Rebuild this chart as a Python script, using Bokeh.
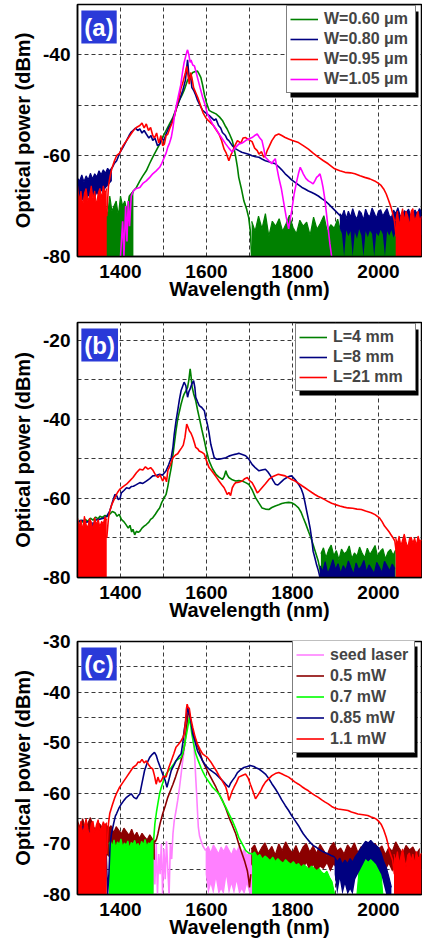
from bokeh.plotting import figure
from bokeh.models import (FixedTicker, Legend, LegendItem, Label, Range1d, BoxAnnotation)
from bokeh.layouts import column
from bokeh.embed import file_html
from bokeh.resources import INLINE

# ---------------- common ----------------
X_START, X_END = 1300, 2100
X_TICKS = [1400, 1600, 1800, 2000]
X_GRID = [1400, 1500, 1600, 1700, 1800, 1900, 2000]

# ---------------- panel (a) ----------------
A_Y = (-80, -30)
A_Y_TICKS = [-80, -60, -40]
A_Y_GRID = [-70, -60, -50, -40]
A_LABELS = ["W=0.60 \u03bcm", "W=0.80 \u03bcm", "W=0.95 \u03bcm", "W=1.05 \u03bcm"]

# W=0.60 um (green)
a060_nl_wl = [1300, 1305, 1310, 1315, 1320, 1325, 1330, 1335, 1340, 1345, 1350, 1355, 1360, 1365,
              1370, 1375, 1380, 1385, 1390, 1395, 1400, 1405, 1410, 1415, 1420, 1425, 1430]
a060_nl_hi = [-70, -72, -69, -71, -73, -70, -71, -69, -72, -70, -71, -73, -69, -70,
              -72, -68, -71, -70, -69, -72, -68, -70, -69, -71, -68, -67.5, -67]
a060_wl = [1425, 1430, 1437, 1445, 1452, 1460, 1468, 1475, 1483, 1491, 1498, 1506, 1514, 1522, 1530,
           1537, 1543, 1548, 1552, 1556, 1562, 1568, 1574, 1579, 1583, 1587, 1591, 1595, 1600, 1606,
           1614, 1622, 1630, 1637, 1643, 1648, 1654, 1660, 1664, 1668, 1672, 1675, 1681, 1687, 1693,
           1698, 1702, 1705]
a060_db = [-68, -67, -66.3, -65, -64, -63, -61.5, -60.3, -59, -57.7, -56.3, -55, -53.7, -52.4, -50.6,
           -49, -48, -47, -46, -45, -44.2, -43.5, -43.3, -43.2, -43.8, -44.5, -46, -47.8, -49.5, -51,
           -51.4, -51.7, -52.3, -53, -54, -54.7, -55.8, -57, -58.5, -60.3, -62.3, -64.3, -66.5, -69, -70.5,
           -72.2, -75, -80]
a060_nr_wl = [1705, 1713, 1721, 1729, 1737, 1745, 1753, 1761, 1769, 1777, 1785, 1793, 1801, 1809, 1817,
              1825, 1833, 1841, 1849, 1857, 1865, 1873, 1881, 1889, 1897, 1905, 1913, 1921, 1929, 1937,
              1945, 1953, 1961, 1969, 1977, 1985, 1993, 2001, 2009, 2017, 2025, 2033, 2041]
a060_nr_hi = [-73, -75, -72, -74.5, -71.5, -76, -73, -74, -72.5, -75, -73.5, -71.8, -74.2, -75.5, -72.8,
              -74, -73.2, -75.8, -72.2, -74.6, -73.4, -71.9, -75.1, -73.7, -74.4, -72.6, -75.4, -73.1, -74.8, -72.4,
              -73.9, -75.2, -72.9, -74.1, -73.6, -71.7, -74.7, -73.3, -75, -72.7, -74.3, -73.8, -75.6]

# W=0.80 um (navy)
a080_nl_wl = [1300, 1305, 1310, 1315, 1320, 1325, 1330, 1335, 1340, 1345, 1350, 1355, 1360, 1365, 1370, 1375, 1380]
a080_nl_hi = [-64.5, -65, -63.8, -65.2, -64, -64.8, -63.5, -64.6, -63.6, -64.2, -63, -63.8, -62.8, -63.5, -62.5, -63, -62.3]
a080_nl_lo = [-69, -68.5, -69, -68.5, -69, -68, -68.5, -68, -68.5, -67.5, -68, -67, -67.5, -66.5, -66, -65.5, -65]
a080_wl = [1380, 1386, 1391, 1398, 1406, 1414, 1420, 1425, 1429, 1435, 1440, 1445, 1450, 1455, 1460, 1466,
           1471, 1475, 1480, 1486, 1491, 1496, 1501, 1506, 1512, 1517, 1522, 1527, 1532, 1537, 1541, 1545,
           1548, 1551, 1554, 1556, 1558, 1560, 1563, 1566, 1570, 1575, 1579, 1585, 1591, 1598, 1606, 1612,
           1618, 1622, 1628, 1633, 1637, 1644, 1648, 1652, 1660, 1667, 1675, 1682, 1690, 1698, 1706, 1714,
           1722, 1730, 1737, 1745, 1752, 1760, 1768, 1775, 1783, 1791, 1798, 1806, 1814, 1822, 1829, 1837,
           1845, 1852, 1860, 1868, 1875, 1883, 1891, 1898, 1906, 1912]
a080_db = [-62.5, -61.5, -61, -59.5, -58.3, -57, -56, -55.3, -55, -54.5, -55, -54.7, -55.5, -55, -55.7, -56.5,
           -56, -57, -56.5, -58, -57.7, -56.5, -57, -55.7, -54.5, -53.8, -52.7, -51.5, -50, -49, -48, -47,
           -46, -45, -42.5, -41, -43, -45, -44, -46.5, -47, -48, -49, -50, -51, -51.5, -52, -52.5,
           -53, -52.7, -54, -54.5, -55.4, -56, -56.7, -57, -58, -58.6, -59, -59.3, -59.5, -59.7, -60, -60.2,
           -60.3, -60.7, -61, -61.2, -61.4, -61.6, -62.2, -62.8, -63.6, -64.2, -64.8, -65.3, -65.8, -66.3, -66.6, -67,
           -67.3, -67.6, -68, -68.5, -68.9, -69.5, -70.2, -70.8, -71.5, -72]
a080_nr_wl = [1910, 1915, 1920, 1925, 1930, 1935, 1940, 1945, 1950, 1955, 1960, 1965, 1970, 1975, 1980,
              1985, 1990, 1995, 2000, 2005, 2010, 2015, 2020, 2025, 2030, 2035, 2040, 2045, 2050, 2055,
              2060, 2065, 2070, 2075, 2080, 2085, 2090, 2095, 2100]
a080_nr_hi = [-71.5, -72, -70.8, -72.5, -71, -72.2, -70.5, -71.8, -72.6, -70.9, -71.4, -72.8, -70.6, -71.7, -72.1,
              -70.4, -71.3, -72.4, -71, -70.7, -72, -71.2, -70.5, -71.9, -72.3, -70.8, -71.5, -70.3, -71.8, -72.1,
              -70.9, -71.2, -70.6, -72, -71.4, -70.8, -71.6, -70.5, -71.1]
a080_nr_lo = [-74.5, -75.5, -80, -74.8, -76, -75, -80, -75.2, -76.5, -74.6, -75.8, -80, -75, -76.2, -74.9,
              -75.5, -80, -75.3, -76, -74.7, -75.6, -80, -75, -75.9, -74.8, -76.3, -75.1, -80, -75.4, -74.9,
              -75.7, -75.2, -80, -74.8, -75.5, -76, -74.9, -75.3, -75.8]

# W=0.95 um (red)
a095_nl_wl = [1300, 1304, 1308, 1312, 1316, 1320, 1324, 1328, 1332, 1336, 1340, 1344, 1348, 1352, 1356, 1360, 1364, 1368]
a095_nl_hi = [-66, -69, -67, -70, -67.5, -66.5, -69, -68, -66, -68.5, -67, -70, -67.5, -66.5, -68.5, -66, -67.5, -66.5]
a095_wl = [1368, 1372, 1376, 1380, 1386, 1391, 1398, 1406, 1414, 1422, 1430, 1437, 1445, 1450, 1455, 1460,
           1465, 1470, 1475, 1479, 1484, 1489, 1494, 1498, 1502, 1506, 1510, 1515, 1520, 1526, 1531, 1536,
           1541, 1545, 1548, 1551, 1554, 1557, 1560, 1563, 1566, 1570, 1575, 1580, 1586, 1592, 1598, 1604,
           1610, 1616, 1622, 1629, 1635, 1641, 1646, 1652, 1656, 1660, 1666, 1672, 1680, 1685, 1691, 1698,
           1706, 1712, 1718, 1722, 1728, 1733, 1737, 1741, 1745, 1752, 1760, 1768, 1775, 1783, 1791, 1800,
           1814, 1825, 1837, 1848, 1860, 1872, 1883, 1892, 1898, 1910, 1922, 1935, 1945, 1957, 1968, 1980,
           1991, 2000, 2006, 2012, 2018, 2024, 2029, 2033, 2037, 2041]
a095_db = [-72, -66, -64, -62.5, -61, -60, -59.5, -58, -57, -56, -55, -54.4, -54, -53.5, -54.5, -53.7,
           -55, -54.4, -56, -56.5, -55.5, -57.5, -56, -58, -57.7, -56, -55.7, -54.5, -53.5, -52, -50, -48.5,
           -46.5, -45.5, -44.5, -43.5, -42.3, -44, -45.8, -43.5, -44.5, -46.5, -47.5, -48.5, -50, -51.5, -52.4, -53,
           -53.5, -54, -54.8, -55.7, -57, -58.7, -59.5, -61, -60, -59.3, -58, -57, -57.5, -56.5, -56.4, -56.8,
           -57.2, -58.5, -59, -59.7, -59.2, -60.3, -60, -59, -58.3, -57, -56, -55.7, -56, -56.4, -56.7, -57,
           -57.4, -58, -58.7, -59.5, -60.3, -61, -61.6, -62.2, -62.6, -63, -63.3, -63.4, -63.6, -64, -64.3, -64.6,
           -65, -65.5, -65.9, -66.6, -67.6, -69, -70.2, -71.5, -72.9, -76]
a095_nr_wl = [2040, 2044, 2048, 2052, 2056, 2060, 2064, 2068, 2072, 2076, 2080, 2084, 2088, 2092, 2096, 2100]
a095_nr_hi = [-73, -71, -74, -72, -70.5, -73, -71, -72, -74, -71, -70.5, -73, -72, -71, -73, -72]

# W=1.05 um (magenta)
a105_wl = [1400, 1405, 1408, 1412, 1415, 1418, 1421, 1425, 1430, 1437, 1445, 1452, 1460, 1468, 1475, 1483,
           1491, 1496, 1502, 1506, 1510, 1514, 1518, 1522, 1525, 1530, 1535, 1540, 1545, 1548, 1551, 1554,
           1556, 1559, 1562, 1564, 1568, 1572, 1576, 1579, 1585, 1591, 1597, 1602, 1608, 1614, 1622, 1629,
           1637, 1645, 1652, 1660, 1666, 1675, 1683, 1691, 1698, 1706, 1712, 1718, 1724, 1729, 1733, 1737,
           1745, 1752, 1756, 1760, 1764, 1768, 1774, 1779, 1785, 1791, 1795, 1798, 1804, 1810, 1814, 1818,
           1822, 1825, 1831, 1837, 1843, 1848, 1852, 1856, 1860, 1864, 1868, 1871, 1875, 1879, 1883, 1887, 1891]
a105_db = [-80, -73, -80, -70, -77, -69, -74, -68, -67, -66.5, -66.3, -65.5, -65, -64.3, -63.6, -63,
           -62.3, -61.5, -60.3, -59.5, -58.3, -57.5, -56.4, -54.5, -52.4, -50, -48, -46, -43, -41.5, -40.5, -39.5,
           -39, -40, -41.5, -41, -42, -42.2, -43.5, -44.5, -46.5, -48.4, -50, -51.7, -52.7, -53.7, -54.7, -55.7,
           -56.7, -57.7, -58.5, -59.3, -58.5, -57.7, -57.5, -57, -56.7, -56.4, -56, -55.7, -56.5, -57, -58.5, -60.3,
           -61, -61.6, -61, -60.6, -62.5, -64.3, -66.5, -69, -72, -74.5, -72.5, -71, -67.5, -65, -63.5, -62.3,
           -63, -63.6, -64.5, -65, -65.3, -65.6, -65, -64.3, -64, -63.6, -65, -66.3, -68.5, -71.5, -74.5, -77.5, -80]

# ---------------- panel (b) ----------------
B_Y = (-80, -15.5)
B_Y_TICKS = [-80, -60, -40, -20]
B_Y_GRID = [-70, -60, -50, -40, -30, -20]
B_LABELS = ["L=4 mm", "L=8 mm", "L=21 mm"]

# L=4 mm (green)
b4_wl = [1300, 1306, 1312, 1318, 1324, 1330, 1336, 1342, 1348, 1352, 1358, 1364, 1368, 1375, 1381, 1387,
         1392, 1397, 1402, 1407, 1412, 1418, 1422, 1426, 1429, 1433, 1437, 1441, 1445, 1450, 1455, 1460,
         1466, 1470, 1475, 1481, 1487, 1491, 1496, 1501, 1506, 1510, 1514, 1518, 1522, 1526, 1529, 1533,
         1537, 1541, 1545, 1548, 1552, 1556, 1559, 1562, 1564, 1566, 1570, 1575, 1579, 1583, 1589, 1595,
         1600, 1606, 1614, 1622, 1629, 1637, 1641, 1645, 1648, 1652, 1660, 1668, 1675, 1683, 1691, 1698,
         1706, 1714, 1722, 1729, 1737, 1745, 1752, 1760, 1768, 1775, 1783, 1791, 1798, 1806, 1814, 1820,
         1825, 1831, 1837, 1843, 1848, 1854, 1860, 1864, 1866]
b4_db = [-66.6, -65.5, -66, -65.3, -65.8, -65, -65.5, -64.7, -65.2, -64.5, -64.8, -64.3, -64.6, -64, -63.3, -63.6,
         -64.5, -64, -65.3, -65.8, -66.5, -67.5, -66.8, -68.5, -67.8, -69.2, -68.3, -68.6, -68.3, -67.5, -67, -66.6,
         -66, -65.3, -64.9, -64, -63, -62.4, -61, -60, -59, -57, -54.5, -52.2, -49, -45.5, -42.9, -40,
         -38, -36.1, -34.5, -33.6, -32.8, -31.9, -30, -27.2, -29, -31.5, -33.5, -35.3, -37.5, -39.5, -42.5, -45.4,
         -48, -50.5, -52.5, -53.9, -54.6, -55.2, -54.5, -53, -54, -54.7, -55.3, -55.6, -55.5, -55.6, -56, -56.4,
         -57.8, -59.8, -61.2, -62.4, -62.7, -62.8, -62.3, -61.9, -61.6, -61.3, -61.1, -61, -61.1, -61.6, -62.4, -63.5,
         -64.9, -66.5, -68.3, -70, -71.7, -73.8, -75.9, -78, -80]
b4_nr_wl = [1866, 1872, 1878, 1884, 1890, 1896, 1902, 1908, 1914, 1920, 1926, 1932, 1938, 1944, 1950,
            1956, 1962, 1968, 1974, 1980, 1986, 1992, 1998, 2004, 2010, 2016, 2022, 2028, 2034, 2040]
b4_nr_hi = [-74, -72.5, -75, -73, -71.8, -74.5, -73.2, -75.5, -72.8, -74, -73.5, -72, -75.2, -73.8, -74.6,
            -72.3, -73.9, -75, -72.6, -74.2, -73.1, -71.9, -74.8, -73.4, -72.7, -75.3, -73.6, -72.9, -74.4, -73]

# L=8 mm (navy)
b8_wl = [1300, 1310, 1320, 1330, 1333, 1336, 1337, 1340, 1350, 1360, 1368, 1375, 1381, 1387, 1391, 1395,
         1399, 1402, 1408, 1414, 1420, 1425, 1430, 1437, 1445, 1452, 1460, 1468, 1475, 1483, 1491, 1498,
         1506, 1512, 1518, 1522, 1525, 1529, 1533, 1537, 1541, 1545, 1548, 1552, 1556, 1559, 1562, 1566,
         1570, 1573, 1575, 1579, 1583, 1589, 1595, 1598, 1602, 1606, 1610, 1614, 1618, 1624, 1629, 1637,
         1645, 1652, 1660, 1668, 1675, 1683, 1691, 1698, 1706, 1714, 1722, 1729, 1737, 1743, 1749, 1755,
         1760, 1766, 1772, 1780, 1787, 1793, 1798, 1806, 1814, 1820, 1825, 1829, 1833, 1837, 1841, 1845,
         1848, 1852, 1856, 1860, 1864]
b8_db = [-66, -65.5, -66, -65.8, -80, -66, -80, -65.5, -65.3, -65, -64.5, -63.2, -61, -59, -59.3, -60.3,
         -60, -58.6, -58, -57.3, -57.5, -57, -56.9, -56.5, -56, -56.2, -55.6, -55, -54.3, -54.2, -53.9, -54.1,
         -53, -51.5, -49.7, -47, -43.7, -40.5, -37.8, -35, -32.7, -31.5, -30.6, -31.5, -34.4, -33, -32.3, -31,
         -30.2, -32, -34.4, -35.5, -36.5, -37, -37.8, -39.5, -41.2, -43.5, -46.3, -48, -49.7, -50.1, -50.1, -49.9,
         -49.7, -49.3, -49, -48.8, -48.6, -48.9, -49.2, -50, -51.4, -52.3, -53, -52.8, -52.6, -53.3, -54.3, -55.5,
         -56.4, -56.6, -56, -55.2, -54.7, -54.4, -54.3, -55.2, -56.4, -57.5, -59, -61, -63.2, -65.3, -67.5, -70.5,
         -73.4, -75, -76.8, -78.2, -80]
b8_nr_wl = [1864, 1870, 1876, 1882, 1888, 1894, 1900, 1906, 1912, 1918, 1924, 1930, 1936, 1942, 1948,
            1954, 1960, 1966, 1972, 1978, 1984, 1990, 1996, 2002, 2008, 2014, 2020, 2026, 2032, 2038]
b8_nr_hi = [-77, -78.5, -76, -79, -77.5, -75.5, -78, -76.5, -79, -77, -78.2, -75.8, -77.6, -79.2, -76.3,
            -78, -77.2, -75.7, -78.6, -76.8, -77.9, -79, -76.2, -77.4, -78.8, -75.9, -77.1, -78.3, -76.6, -77.8]

# L=21 mm (red)
b21_nl_wl = [1300, 1304, 1308, 1312, 1316, 1320, 1324, 1328, 1332, 1336, 1340, 1344, 1348, 1352, 1356, 1360, 1364, 1368]
b21_nl_hi = [-65, -67, -65.5, -68, -64.5, -66.5, -67.5, -65, -66, -68, -64.8, -66.7, -65.3, -67.2, -65.8, -66.4, -64.6, -65.5]
b21_wl = [1368, 1372, 1375, 1380, 1387, 1393, 1398, 1406, 1414, 1422, 1429, 1437, 1445, 1452, 1458, 1464,
          1470, 1475, 1481, 1487, 1492, 1498, 1503, 1507, 1510, 1516, 1522, 1528, 1533, 1537, 1542, 1546,
          1550, 1554, 1557, 1560, 1564, 1568, 1572, 1575, 1580, 1583, 1589, 1595, 1600, 1606, 1612, 1618,
          1624, 1629, 1635, 1641, 1645, 1648, 1652, 1656, 1660, 1664, 1668, 1675, 1683, 1689, 1695, 1700,
          1706, 1712, 1718, 1722, 1729, 1737, 1745, 1752, 1760, 1767, 1775, 1783, 1791, 1798, 1806, 1814,
          1822, 1829, 1837, 1845, 1852, 1860, 1868, 1875, 1883, 1891, 1898, 1910, 1920, 1929, 1940, 1950,
          1960, 1970, 1983, 1992, 2002, 2008, 2014, 2020, 2025, 2029, 2034, 2038, 2042]
b21_db = [-70, -65, -63.2, -61.5, -59.8, -58.5, -57.7, -57, -56.4, -55.5, -54.7, -53.5, -52.6, -52.8, -52, -52.6,
          -52.2, -52.8, -54, -54.7, -54, -55.6, -54.5, -55.8, -53, -51.5, -49.7, -49, -48.7, -48, -47.2, -46.5,
          -44.5, -41.2, -42, -42.9, -43.5, -44.6, -46, -47.1, -47.5, -48, -48.3, -48.8, -50.5, -52.2, -53, -53.9,
          -54.8, -55.6, -56.5, -57.3, -58.2, -59, -58.5, -59.3, -57.3, -56.5, -56, -55.9, -55.6, -55, -54.7, -55.5,
          -56, -57.2, -58.6, -58.2, -57.3, -56.3, -55.2, -54.6, -54.2, -53.9, -54.1, -54.3, -54.8, -55.2, -55.6, -56.2,
          -56.8, -57.3, -57.9, -58.5, -59, -59.5, -59.9, -60.3, -60.8, -61.2, -61.5, -61.9, -62.2, -62.4, -62.5, -62.7,
          -62.8, -63.2, -63.6, -64.1, -64.9, -65.8, -67, -67.8, -68.5, -69.2, -70, -70.8, -74]
b21_nr_wl = [2040, 2044, 2048, 2052, 2056, 2060, 2064, 2068, 2072, 2076, 2080, 2084, 2088, 2092, 2096, 2100]
b21_nr_hi = [-70, -71.5, -69.5, -72, -70.5, -69, -71, -72.5, -70.2, -69.8, -71.3, -70, -72, -69.5, -71, -70.4]

# ---------------- panel (c) ----------------
C_Y = (-80, -30)
C_Y_TICKS = [-80, -70, -60, -50, -40, -30]
C_Y_GRID = [-75, -70, -65, -60, -55, -50, -45, -40, -35]
C_LABELS = ["seed laser", "0.5 mW", "0.7 mW", "0.85 mW", "1.1 mW"]

# seed laser (pink)
cs_wl = [1475, 1478, 1480, 1483, 1486, 1489, 1492, 1495, 1498, 1501, 1504, 1507, 1510, 1513, 1516, 1519,
         1522, 1525, 1529, 1533, 1537, 1541, 1544, 1547, 1550, 1552, 1555, 1558, 1560, 1562, 1565, 1568,
         1571, 1573, 1575, 1577, 1579, 1581, 1584, 1587, 1592, 1598]
cs_db = [-80, -71, -78, -70, -80, -72, -76, -70, -80, -71, -77, -69.5, -75, -80, -70, -73,
         -68, -65.4, -63.5, -61.4, -59, -56.2, -54, -52.2, -49.5, -47.6, -45.3, -43, -43.8, -45, -46.5, -48.3,
         -51, -53.6, -57, -60.1, -63.5, -66.7, -68.5, -69.3, -70.5, -71.3]
cs_n_wl = [1598, 1604, 1610, 1616, 1622, 1628, 1634, 1640, 1646, 1652, 1658, 1664, 1670, 1676, 1682,
           1688, 1694, 1700, 1706, 1712]
cs_n_hi = [-71.3, -70.5, -71.8, -70.2, -71, -72, -70.6, -71.5, -70.3, -71.2, -72.2, -70.8, -71.6, -70.4, -71.9,
           -71, -72.4, -71.5, -73, -78]
cs_n_lo = [-76, -80, -78, -80, -77, -80, -79, -80, -76.5, -80, -78, -80, -77.5, -80, -79,
           -80, -78, -80, -80, -80]

# 0.5 mW (dark red)
c05_nl_wl = [1300, 1306, 1312, 1318, 1324, 1330, 1336, 1342, 1348, 1354, 1360, 1366, 1372, 1378, 1384, 1390,
             1396, 1402, 1408, 1414, 1420, 1426, 1432, 1438, 1444, 1450, 1456, 1462, 1468, 1474, 1480]
c05_nl_hi = [-65.5, -66.8, -65, -67, -66, -64.8, -66.5, -67.2, -65.8, -66.3, -67.5, -66, -67, -66.4, -67.8, -66.6,
             -67.3, -68, -66.9, -67.6, -68.3, -67.1, -68.5, -67.7, -68.9, -67.9, -68.6, -69.2, -68.2, -69, -69.5]
c05_nl_lo = [-72, -71.5, -73, -72, -71.8, -72.5, -71.6, -72.2, -73, -71.7, -72.4, -71.9, -72.6, -71.5, -72.8, -72,
             -71.7, -72.9, -72.2, -71.8, -72.7, -72.1, -72.9, -72.3, -73, -72.5, -72.8, -73.2, -72.6, -73, -73.2]
c05_wl = [1480, 1484, 1487, 1492, 1498, 1504, 1510, 1516, 1522, 1528, 1533, 1539, 1545, 1549, 1552, 1555,
          1558, 1561, 1564, 1569, 1575, 1583, 1591, 1598, 1606, 1614, 1622, 1629, 1637, 1645, 1652, 1660,
          1668, 1675, 1683, 1689, 1695, 1698, 1700, 1703]
c05_db = [-69.7, -69, -68, -66, -64.1, -62.5, -60.8, -59.5, -58.2, -56.8, -55.5, -54, -52.2, -50.5, -48.3, -46,
          -43.7, -44.5, -46.3, -48, -49.6, -51.5, -53.6, -54.9, -56.2, -57.5, -58.8, -60.1, -61.4, -63, -64.7, -66.3,
          -68, -70, -72, -73.5, -75.3, -77, -78.6, -76]
c05_nr_wl = [1704, 1712, 1720, 1728, 1736, 1744, 1752, 1760, 1768, 1776, 1784, 1792, 1800, 1808, 1816, 1824,
             1832, 1840, 1848, 1856, 1864, 1872, 1880, 1888, 1896, 1904, 1912, 1920, 1928, 1936, 1944, 1952,
             1960, 1968, 1976, 1984, 1992, 2000, 2008, 2016, 2024, 2032, 2040, 2048, 2056, 2064, 2072, 2080,
             2088, 2096]
c05_nr_hi = [-71, -70.2, -72, -70.8, -69.8, -71.5, -70.5, -72.2, -70, -71.3, -69.6, -70.9, -71.8, -70.3, -72.1, -70.7,
             -69.9, -71.6, -70.4, -71.9, -70.1, -71.2, -72.3, -70.6, -69.7, -71.4, -70.8, -72, -70.2, -71.1, -69.8, -71.7,
             -70.5, -72.2, -70.9, -71.3, -69.9, -71, -70.4, -72.1, -70.7, -71.5, -69.6, -70.8, -71.9, -70.3, -71.2, -70.6,
             -72, -70.9]
c05_nr_lo = [-74, -75.5, -73.8, -75, -74.4, -75.8, -74.1, -75.2, -73.9, -75.6, -74.3, -75.1, -74, -75.7, -74.6, -75.3,
             -73.8, -75.4, -74.2, -75.9, -74.5, -75, -73.9, -75.5, -74.1, -75.2, -74.7, -75.8, -74, -75.4, -74.3, -75.1,
             -73.9, -75.6, -74.4, -75, -74.2, -75.7, -74.6, -75.3, -74, -75.5, -74.1, -75.2, -73.8, -75.4, -74.5, -75,
             -74.2, -75.6]

# 0.7 mW (bright green)
c07_nl_wl = [1373, 1377, 1381, 1385, 1389, 1393, 1397, 1401, 1405, 1409, 1413, 1417, 1421, 1425, 1429, 1433,
             1437, 1441, 1445, 1449, 1453, 1457, 1461, 1465, 1469, 1473, 1477]
c07_nl_hi = [-70, -69.5, -70.5, -69.2, -70.8, -69.6, -70.2, -69, -70.6, -69.8, -70.3, -69.4, -70.9, -69.7, -70.1, -69.3,
             -70.4, -69.9, -70.7, -69.5, -70.2, -69.1, -70.5, -69.8, -70, -69.4, -69.3]
c07_wl = [1477, 1480, 1484, 1487, 1491, 1495, 1500, 1506, 1512, 1518, 1524, 1529, 1535, 1541, 1545, 1548,
          1552, 1555, 1558, 1560, 1563, 1566, 1570, 1575, 1581, 1587, 1592, 1598, 1606, 1614, 1622, 1629,
          1637, 1645, 1652, 1660, 1668, 1675, 1683, 1691, 1698, 1706]
c07_db = [-69.3, -66, -63.5, -62, -60, -58.8, -57.5, -56.2, -55.5, -54.9, -54.2, -53.6, -53.2, -52.9, -52, -50.9,
          -49, -47.6, -46.2, -45, -46.5, -48.3, -50.2, -52.2, -53.6, -54.9, -55.8, -56.8, -57.8, -58.8, -59.5, -60.1,
          -61.5, -62.8, -64, -65.4, -67, -68.7, -70, -71.3, -71.8, -72]
c07_nr1_wl = [1706, 1712, 1718, 1724, 1730, 1736, 1742, 1748, 1754, 1760, 1766, 1772, 1778, 1784, 1790, 1796,
              1802, 1808, 1814, 1820, 1826, 1832, 1838, 1844, 1850, 1856, 1862, 1868, 1874, 1880, 1886, 1892, 1898]
c07_nr1_hi = [-72, -71.6, -72.5, -72.1, -73, -72.4, -72.8, -73.3, -72.6, -73.5, -72.9, -73.4, -73.8, -73.1, -73.6, -74,
              -73.5, -74.2, -73.9, -74.6, -74.1, -74.5, -75, -74.4, -74.8, -75.3, -74.9, -75.6, -76, -75.4, -76.6, -77.5, -80]
c07_nr2_wl = [1950, 1956, 1962, 1968, 1974, 1980, 1986, 1992, 1998, 2004, 2010]
c07_nr2_hi = [-80, -74, -72.8, -73.5, -72.4, -73, -72.6, -73.2, -72.9, -74, -80]

# 0.85 mW (navy)
c085_wl = [1300, 1306, 1312, 1318, 1324, 1330, 1336, 1342, 1348, 1354, 1360, 1366, 1370, 1373, 1376, 1379,
           1384, 1388, 1391, 1396, 1402, 1408, 1414, 1420, 1425, 1431, 1437, 1441, 1445, 1450, 1456, 1462,
           1468, 1474, 1479, 1483, 1487, 1493, 1498, 1504, 1508, 1512, 1518, 1524, 1529, 1535, 1541, 1545,
           1548, 1552, 1556, 1559, 1562, 1565, 1568, 1574, 1579, 1585, 1591, 1598, 1606, 1614, 1622, 1629,
           1637, 1645, 1652, 1656, 1660, 1666, 1672, 1680, 1687, 1695, 1702, 1710, 1716, 1722, 1730, 1737,
           1745, 1752, 1760, 1768, 1775, 1783, 1791, 1798, 1806, 1814, 1820, 1825, 1833, 1841, 1848, 1854,
           1860, 1868, 1875, 1883, 1890, 1898]
c085_db = [-67, -68, -66.5, -68.2, -67.3, -68, -66.8, -67.9, -67.1, -68.3, -67.5, -70, -80, -76, -70, -68,
           -66, -64.5, -64, -63, -62.1, -61.4, -60.8, -60.4, -60.1, -60.8, -61.1, -60.5, -60.1, -58, -55.5, -54,
           -52.9, -52.3, -51.9, -52.5, -53.6, -55, -56.2, -57.5, -58.8, -57.5, -55.5, -54.5, -53.6, -52.8, -52.2, -50,
           -47.6, -45.5, -43, -44, -45, -46.5, -48.3, -50, -51.6, -52.6, -53.6, -54.5, -55.2, -55.7, -56.2, -56.8,
           -57.5, -58.2, -58.8, -58, -57.5, -56.8, -55.9, -55.3, -54.9, -54.7, -54.5, -54.7, -55, -55.2, -55.7, -56.2,
           -57.1, -58.1, -59.1, -60.2, -61.3, -62.4, -63.4, -64.4, -65.4, -66.4, -67.3, -68, -68.9, -69.7, -70.3, -70.6,
           -71, -71.4, -71.7, -72, -72.3, -72.6]
c085_n_wl = [1898, 1904, 1910, 1916, 1922, 1928, 1934, 1940, 1946, 1952, 1958, 1964, 1970, 1976, 1982, 1988,
             1994, 2000, 2006, 2012, 2018, 2024, 2030]
c085_n_hi = [-72.6, -73.5, -72.8, -74, -73.2, -73.9, -72.9, -73.6, -72.5, -71.8, -71, -70.2, -69.5, -69.8, -69.3, -69.9,
             -70.3, -70.7, -71.8, -73.5, -74.6, -76.5, -78.6]
c085_n_lo = [-76, -80, -77, -80, -78, -80, -79, -80, -77, -76, -75, -74, -73, -73.5, -73, -73.5,
             -74, -75, -76, -78, -80, -80, -80]

# 1.1 mW (red)
c11_nl_wl = [1300, 1304, 1308, 1312, 1316, 1320, 1324, 1328, 1332, 1336, 1340, 1344, 1348, 1352, 1356, 1360, 1364, 1368]
c11_nl_hi = [-66, -67.5, -65.5, -68, -66.5, -65, -67, -68.5, -66, -65.5, -67.8, -66.2, -65.2, -67.3, -66.8, -65.6, -66.4, -65.8]
c11_wl = [1368, 1372, 1375, 1381, 1387, 1392, 1398, 1406, 1414, 1422, 1429, 1437, 1441, 1445, 1450, 1455,
          1460, 1465, 1470, 1475, 1479, 1483, 1487, 1491, 1495, 1500, 1506, 1512, 1518, 1524, 1529, 1535,
          1541, 1545, 1548, 1551, 1553, 1555, 1557, 1560, 1563, 1568, 1573, 1579, 1585, 1591, 1597, 1602,
          1610, 1618, 1624, 1629, 1637, 1645, 1649, 1652, 1656, 1660, 1664, 1670, 1675, 1683, 1691, 1697,
          1702, 1708, 1714, 1720, 1726, 1731, 1737, 1745, 1752, 1760, 1768, 1776, 1783, 1791, 1800, 1806,
          1814, 1822, 1829, 1837, 1845, 1852, 1860, 1868, 1875, 1883, 1891, 1898, 1906, 1914, 1922, 1929,
          1937, 1945, 1952, 1960, 1968, 1975, 1983, 1990, 1995, 2000, 2006, 2012, 2018, 2022, 2025, 2029,
          2033, 2037]
c11_db = [-72, -66, -64, -62.3, -60.8, -59.8, -58.8, -57.8, -56.8, -55.8, -54.9, -54.4, -53.8, -53.9, -53.3, -54,
          -53.6, -54.3, -54.9, -55.2, -56.5, -58.2, -56.8, -57.8, -57.5, -56.6, -56.8, -55, -53.6, -52.2, -50.9, -50.3,
          -49.6, -49, -48.3, -46, -43.5, -42.4, -43, -43.2, -45, -47, -48.7, -50.3, -51.3, -52.2, -52.6, -52.9,
          -53.8, -54.9, -55.7, -56.5, -57.6, -58.8, -60, -61.4, -60.5, -59.5, -58.8, -57.8, -56.8, -56.5, -56.2, -57,
          -58.2, -59.6, -61.1, -60.3, -59.5, -58.6, -57.8, -57.1, -56.5, -56.1, -55.9, -56.2, -56.5, -56.8, -57.4, -57.8,
          -58.2, -58.7, -59.1, -59.5, -60, -60.4, -60.8, -61.3, -61.7, -62.1, -62.6, -62.9, -63.1, -63.2, -63.3, -63.4,
          -63.7, -63.9, -64.1, -64.2, -64.3, -64.4, -64.7, -64.9, -65.1, -65.5, -66.1, -67.2, -68.7, -70, -71.3, -72.3,
          -73.3, -76]
c11_nr_wl = [2036, 2040, 2044, 2048, 2052, 2056, 2060, 2064, 2068, 2072, 2076, 2080, 2084, 2088, 2092, 2096, 2100]
c11_nr_hi = [-72, -73.5, -71.5, -74, -72.5, -71, -73, -74.5, -72.2, -71.8, -73.3, -72, -74, -71.5, -73, -72.4, -71.8]

# ---------------- colours ----------------
GREEN = "#008000"
NAVY = "#000080"
RED = "#ff0000"
MAGENTA = "#ff00ff"
PINK = "#ff80ff"
DARKRED = "#8b0000"
LIME = "#00ff00"
BADGE = "#2a3ad8"
FONT = "Liberation Sans"
FRAME_W = 344


def make_fig(height, top, bottom, frame_h, yr, yticks, ygrid, badge):
    p = figure(width=422, height=height, output_backend="svg", toolbar_location=None,
               x_range=Range1d(X_START, X_END), y_range=Range1d(*yr),
               min_border_left=77, min_border_right=1, min_border_top=top,
               min_border_bottom=bottom)
    p.outline_line_color = "black"
    p.outline_line_width = 1.5
    p.background_fill_color = "white"
    p.border_fill_color = "white"
    for ax in (p.xaxis[0], p.yaxis[0]):
        ax.axis_line_color = "black"
        ax.axis_line_width = 1.5
        ax.major_tick_out = 0
        ax.major_tick_in = 0
        ax.minor_tick_out = 0
        ax.minor_tick_in = 0
        ax.major_label_text_font = FONT
        ax.major_label_text_font_style = "bold"
        ax.major_label_text_font_size = "19px"
        ax.major_label_text_color = "black"
        ax.axis_label_text_font = FONT
        ax.axis_label_text_font_style = "bold"
        ax.axis_label_text_font_size = "20px"
        ax.axis_label_text_color = "black"
    p.xaxis.ticker = FixedTicker(ticks=X_TICKS)
    p.yaxis.ticker = FixedTicker(ticks=yticks)
    p.yaxis.major_label_overrides = {t: str(t) for t in yticks}
    p.xaxis.axis_label = "Wavelength (nm)"
    p.yaxis.axis_label = "Optical power (dBm)"
    p.xaxis.major_label_standoff = 8
    p.xaxis.axis_label_standoff = -3
    p.yaxis.major_label_standoff = 7
    p.yaxis.axis_label_standoff = 6
    p.xgrid.ticker = FixedTicker(ticks=X_GRID)
    p.ygrid.ticker = FixedTicker(ticks=ygrid)
    for g in (p.xgrid[0], p.ygrid[0]):
        g.grid_line_color = "#3a3a3a"
        g.grid_line_dash = "4 3"
        g.grid_line_width = 1
    lab = Label(x=X_START + 9, y=yr[1] - 1.2 * (yr[1] - yr[0]) / 50, text=badge,
                text_color="white", text_font=FONT, text_font_style="bold",
                text_font_size="24px", background_fill_color=BADGE,
                text_align="left", text_baseline="top", padding=3)
    p.add_layout(lab)
    return p


def band(p, wl, lo, hi, color):
    p.varea(x=wl, y1=lo, y2=hi, fill_color=color)
    p.line(wl, hi, line_color=color, line_width=1.2)


def curve(p, wl, db, color):
    return p.line(wl, db, line_color=color, line_width=1.6)


def add_legend(p, frame_h, labels, renderers, left, top, width, row_h, pad=3, shadow=4):
    n = len(labels)
    height = n * row_h + 2 * pad
    xs, xe = p.x_range.start, p.x_range.end
    ys, ye = p.y_range.start, p.y_range.end

    def dx(px):
        return xs + px / FRAME_W * (xe - xs)

    def dy(py):
        return ye - py / frame_h * (ye - ys)

    sh = BoxAnnotation(left=dx(left + shadow), right=dx(left + width + shadow),
                       top=dy(top + shadow), bottom=dy(top + height + shadow),
                       fill_color="black", fill_alpha=1, line_color=None)
    p.add_layout(sh)
    items = [LegendItem(label=l, renderers=[r]) for l, r in zip(labels, renderers)]
    label_w = width - 2 * pad - 28 - 6
    lg = Legend(items=items, location=(left, frame_h - top - height))
    lg.margin = 0
    lg.padding = pad
    lg.spacing = 0
    lg.label_height = row_h
    lg.glyph_height = row_h
    lg.glyph_width = 28
    lg.label_width = label_w
    lg.label_standoff = 6
    lg.label_text_font = FONT
    lg.label_text_font_style = "bold"
    lg.label_text_font_size = "16px"
    lg.border_line_color = "black"
    lg.border_line_width = 1.2
    lg.background_fill_alpha = 1
    p.add_layout(lg)


# ---------- panel (a) ----------
pa = make_fig(315, 4, 59, 252, A_Y, A_Y_TICKS, A_Y_GRID, "(a)")
fa = pa.y_range.start
band(pa, a060_nl_wl, fa, a060_nl_hi, GREEN)
band(pa, a060_nr_wl, fa, a060_nr_hi, GREEN)
ra1 = curve(pa, a060_wl, a060_db, GREEN)
band(pa, a080_nl_wl, a080_nl_lo, a080_nl_hi, NAVY)
band(pa, a080_nr_wl, a080_nr_lo, a080_nr_hi, NAVY)
ra2 = curve(pa, a080_wl, a080_db, NAVY)
band(pa, a095_nl_wl, fa, a095_nl_hi, RED)
band(pa, a095_nr_wl, fa, a095_nr_hi, RED)
ra3 = curve(pa, a095_wl, a095_db, RED)
ra4 = curve(pa, a105_wl, a105_db, MAGENTA)
add_legend(pa, 252, A_LABELS, [ra1, ra2, ra3, ra4], left=209, top=3, width=128, row_h=20)

# ---------- panel (b) ----------
pb = make_fig(316, 7, 54, 255, B_Y, B_Y_TICKS, B_Y_GRID, "(b)")
fb = pb.y_range.start
band(pb, b4_nr_wl, fb, b4_nr_hi, GREEN)
rb1 = curve(pb, b4_wl, b4_db, GREEN)
band(pb, b8_nr_wl, fb, b8_nr_hi, NAVY)
rb2 = curve(pb, b8_wl, b8_db, NAVY)
band(pb, b21_nl_wl, fb, b21_nl_hi, RED)
band(pb, b21_nr_wl, fb, b21_nr_hi, RED)
rb3 = curve(pb, b21_wl, b21_db, RED)
add_legend(pb, 255, B_LABELS, [rb1, rb2, rb3], left=218, top=3, width=119, row_h=20)

# ---------- panel (c) ----------
pc = make_fig(316, 10, 53, 253, C_Y, C_Y_TICKS, C_Y_GRID, "(c)")
fc = pc.y_range.start
band(pc, cs_n_wl, cs_n_lo, cs_n_hi, PINK)
rc1 = curve(pc, cs_wl, cs_db, PINK)
band(pc, c05_nl_wl, c05_nl_lo, c05_nl_hi, DARKRED)
band(pc, c05_nr_wl, c05_nr_lo, c05_nr_hi, DARKRED)
rc2 = curve(pc, c05_wl, c05_db, DARKRED)
band(pc, c07_nl_wl, fc, c07_nl_hi, LIME)
band(pc, c07_nr1_wl, fc, c07_nr1_hi, LIME)
band(pc, c07_nr2_wl, fc, c07_nr2_hi, LIME)
rc3 = curve(pc, c07_wl, c07_db, LIME)
band(pc, c085_n_wl, c085_n_lo, c085_n_hi, NAVY)
rc4 = curve(pc, c085_wl, c085_db, NAVY)
band(pc, c11_nl_wl, fc, c11_nl_hi, RED)
band(pc, c11_nr_wl, fc, c11_nr_hi, RED)
rc5 = curve(pc, c11_wl, c11_db, RED)
add_legend(pc, 253, C_LABELS, [rc1, rc2, rc3, rc4, rc5], left=215, top=1, width=121, row_h=21)

layout = column(pa, pb, pc)
open("out.html", "w").write(file_html(layout, INLINE))
